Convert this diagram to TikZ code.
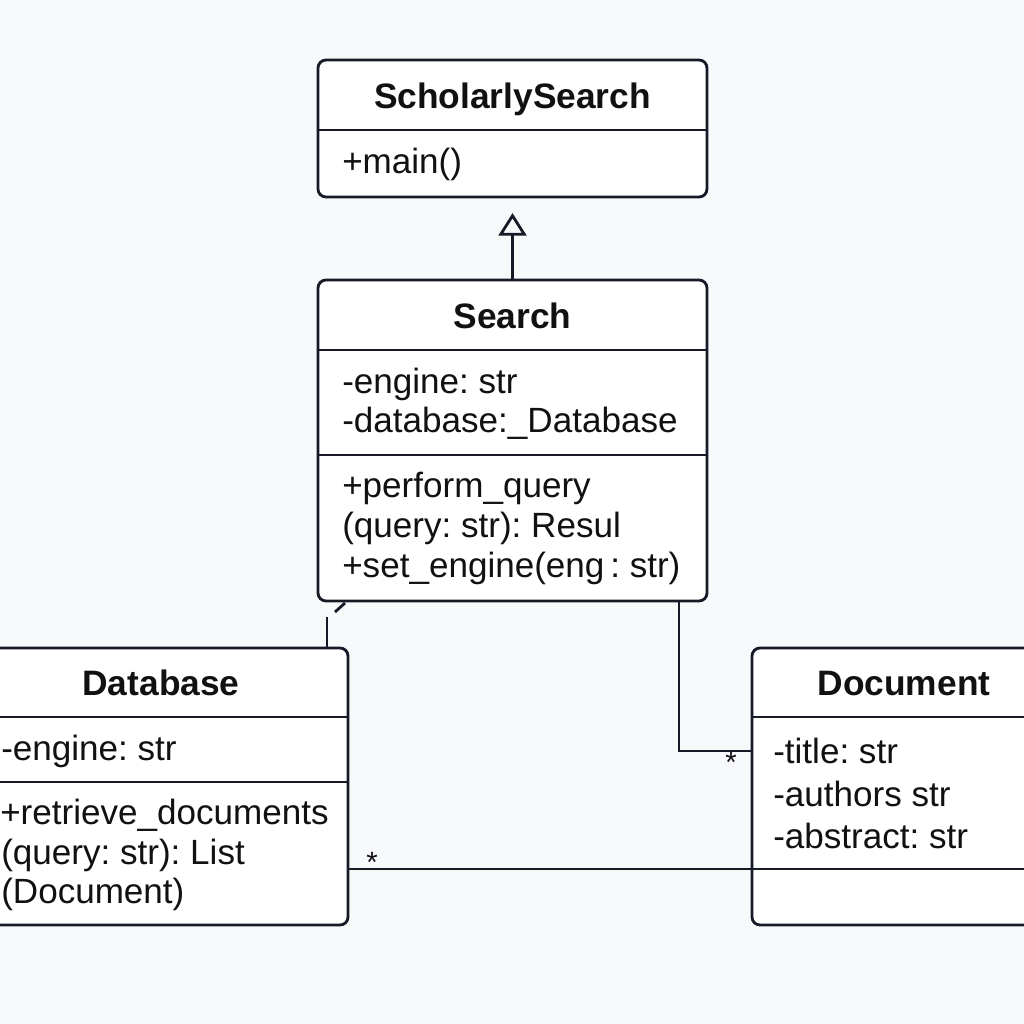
\documentclass[tikz,border=0pt]{standalone}
\usepackage{fontspec}
\setmainfont{Liberation Sans}
\usetikzlibrary{arrows.meta,calc}
\definecolor{ink}{RGB}{22,26,38}
\definecolor{txt}{RGB}{17,17,20}
\definecolor{bg}{RGB}{248,249,251}
\frenchspacing
\begin{document}
\begin{tikzpicture}[x=0.75pt,y=-0.75pt,
  cls/.style={draw=ink, line width=2.1pt, rounded corners=6pt, fill=white, inner sep=0pt},
  divider/.style={draw=ink, line width=2.1pt},
  conn/.style={draw=ink, line width=2.1pt},
  title/.style={font=\fontsize{26.5}{30}\selectfont\bfseries, text=txt, inner sep=0pt},
  member/.style={font=\fontsize{26.3}{30}\selectfont, text=txt, anchor=west, inner sep=0pt},
  mult/.style={font=\fontsize{22}{24}\selectfont, text=txt, inner sep=0pt}]
\useasboundingbox (0,0) rectangle (1024,1024);
\clip (0,0) rectangle (1024,1024);
\fill[bg] (0,0) rectangle (1024,1024);

% ScholarlySearch
\node[cls, minimum width=291.75pt, minimum height=102.75pt] (ss) at (512.5,128.5) {};
\draw[divider] (ss.west |- 0,130) -- (ss.east |- 0,130);
\node[title] (sst) at (512.5,99) {ScholarlySearch};
\node[member] (ssm) at (342,164) {+main()};

% Search
\node[cls, minimum width=291.75pt, minimum height=240.75pt] (search) at (512.5,440.5) {};
\draw[divider] (search.west |- 0,350) -- (search.east |- 0,350);
\draw[divider] (search.west |- 0,455) -- (search.east |- 0,455);
\node[title] (st) at (512.5,316) {Search};
\node[member] (sa1) at (342,384) {-engine: str};
\node[member] (sa2) at (342,423) {-database:\_Database};
\node[member] (sm1) at (342,488) {+perform\_query};
\node[member] (sm2) at (342,528) {(query: str): Resu\textsc{l}};
\node[member] (sm3) at (342,568) {+set\_engine(eng\,: str)};

% Database
\node[cls, minimum width=276pt, minimum height=207.75pt] (db) at (164,786.5) {};
\draw[divider] (db.west |- 0,717) -- (db.east |- 0,717);
\draw[divider] (db.west |- 0,782) -- (db.east |- 0,782);
\node[title] (dbt) at (161,683) {Database};
\node[member] (da1) at (1,751) {-engine: str};
\node[member] (dm1) at (0,815) {+retrieve\_documents};
\node[member] (dm2) at (1,855) {(query: str): List};
\node[member] (dm3) at (1,894) {(Document)};

% Document
\node[cls, minimum width=228pt, minimum height=207.75pt] (doc) at (904,786.5) {};
\draw[divider] (doc.west |- 0,717) -- (doc.east |- 0,717);
\draw[divider] (doc.west |- 0,869) -- (doc.east |- 0,869);
\node[title] (doct) at (904,684) {Document};
\node[member] (oa1) at (773,751) {-title: str};
\node[member] (oa2) at (773,794) {-authors str};
\node[member] (oa3) at (773,836) {-abstract: str};

% Generalization Search -> ScholarlySearch
\draw[conn, shorten >=11pt, -{Triangle[open, length=17pt, width=21pt, line width=2.1pt]}] (search.north) -- (ss.south);

% Search -> Document association
\coordinate (sdtop) at (search.south -| 679,0);
\coordinate (sdend) at (doc.west |- 0,751);
\draw[conn] (sdtop) |- (sdend);
\node[mult] (m1) at (731,762) {*};

% Database -> Document association
\coordinate (dbdoc) at (db.east |- 0,869);
\coordinate (docdb) at (doc.west |- 0,869);
\draw[conn] (dbdoc) -- (docdb);
\node[mult] (m2) at (372,862) {*};

% Search - Database broken link
\coordinate (sb1) at (345,603);
\coordinate (sb2) at (335,612);
\coordinate (sb3) at (327,617);
\coordinate (sb4) at (db.north -| 327,0);
\draw[conn] (sb1) -- (sb2);
\draw[conn] (sb3) -- (sb4);
\end{tikzpicture}
\end{document}
